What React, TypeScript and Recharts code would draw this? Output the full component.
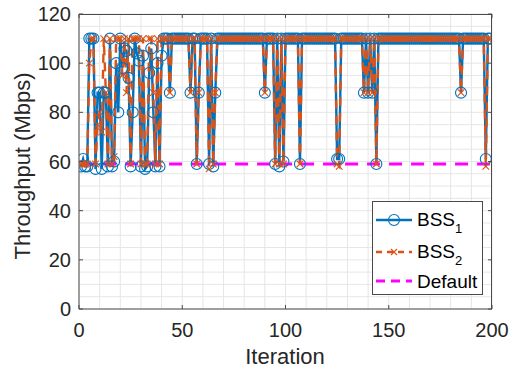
import React from 'react';
import { LineChart, Line, XAxis, YAxis, CartesianGrid, Legend } from 'recharts';

// ---- data ----
const bss1: number[] = [
  58, 61, 58, 58, 110, 110, 110, 57, 88, 88,
  57, 88, 88, 58, 110, 58, 60, 100, 80, 110,
  98, 106, 105, 94, 58, 80, 110, 104, 101, 58,
  103, 57, 58, 96, 106, 80, 58, 100, 58, 103,
  110, 110, 110, 88, 110, 110, 110, 110, 110, 110,
  110, 110, 110, 88, 110, 110, 59, 88, 110, 110,
  110, 110, 59, 110, 58, 88, 110, 110, 110, 110,
  110, 110, 110, 110, 110, 110, 110, 110, 110, 110,
  110, 110, 110, 110, 110, 110, 110, 110, 110, 88,
  110, 110, 110, 110, 59, 110, 58, 110, 60, 110,
  110, 110, 110, 110, 110, 110, 59, 110, 110, 110,
  110, 110, 110, 110, 110, 110, 110, 110, 110, 110,
  110, 110, 110, 110, 61, 61, 110, 110, 110, 110,
  110, 110, 110, 110, 110, 110, 110, 88, 110, 88,
  110, 88, 110, 59, 110, 110, 110, 110, 110, 110,
  110, 110, 110, 110, 110, 110, 110, 110, 110, 110,
  110, 110, 110, 110, 110, 110, 110, 110, 110, 110,
  110, 110, 110, 110, 110, 110, 110, 110, 110, 110,
  110, 110, 110, 110, 88, 110, 110, 110, 110, 110,
  110, 110, 110, 110, 110, 110, 61, 110, 110,
];

const bss2: number[] = [
  59, 59, 59, 59, 100, 110, 110, 59, 75, 80,
  72, 110, 88, 59, 110, 59, 62, 110, 110, 110,
  95, 110, 88, 110, 59, 110, 110, 110, 110, 59,
  110, 59, 59, 110, 110, 88, 59, 110, 59, 110,
  110, 110, 110, 88, 110, 110, 110, 110, 110, 110,
  110, 110, 110, 88, 110, 110, 59, 88, 110, 110,
  110, 110, 57, 110, 59, 88, 110, 110, 110, 110,
  110, 110, 110, 110, 110, 110, 110, 110, 110, 110,
  110, 110, 110, 110, 110, 110, 110, 110, 110, 88,
  110, 110, 110, 110, 59, 110, 59, 110, 59, 110,
  110, 110, 110, 110, 110, 110, 59, 110, 110, 110,
  110, 110, 110, 110, 110, 110, 110, 110, 110, 110,
  110, 110, 110, 110, 59, 58, 110, 110, 110, 110,
  110, 110, 110, 110, 110, 110, 110, 88, 110, 88,
  110, 88, 110, 59, 110, 110, 110, 110, 110, 110,
  110, 110, 110, 110, 110, 110, 110, 110, 110, 110,
  110, 110, 110, 110, 110, 110, 110, 110, 110, 110,
  110, 110, 110, 110, 110, 110, 110, 110, 110, 110,
  110, 110, 110, 110, 88, 110, 110, 110, 110, 110,
  110, 110, 110, 110, 110, 110, 58, 110, 110,
];

const DEFAULT_THROUGHPUT = 59;

const xTicks: number[] = [0, 10, 20, 30, 40, 50, 60, 70, 80, 90, 100, 110, 120, 130, 140, 150, 160, 170, 180, 190, 200];
const xLabelTicks: number[] = [0, 50, 100, 150, 200];
const yTicks: number[] = [0, 5, 10, 15, 20, 25, 30, 35, 40, 45, 50, 55, 60, 65, 70, 75, 80, 85, 90, 95, 100, 105, 110, 115, 120];
const yLabelTicks: number[] = [0, 20, 40, 60, 80, 100, 120];

const data = bss1.map((v, i) => ({
  iter: i + 1,
  bss1: v,
  bss2: bss2[i],
  def: DEFAULT_THROUGHPUT,
}));

// ---- style ----
const FONT = '"Liberation Sans", Arial, Helvetica, sans-serif';
const AX = '#262626';
const FRAME = '#4a4a4a';
const BLUE = '#0072BD';
const ORANGE = '#D95319';
const MAGENTA = '#FF00FF';
const PLOT_LEFT = 79;
const PLOT_RIGHT = 492;
const PLOT_TOP = 14;
const PLOT_BOTTOM = 309;
const TICK_LEN = 4;
const X_AXIS_H = 50;
const Y_AXIS_W = 60;

const XTick = (props: any) => {
  const { x, payload } = props;
  const v = payload.value;
  if (!xLabelTicks.includes(v)) return <g />;
  return (
    <g>
      <line x1={x} x2={x} y1={PLOT_BOTTOM} y2={PLOT_BOTTOM - TICK_LEN} stroke={FRAME} strokeWidth={1} />
      <line x1={x} x2={x} y1={PLOT_TOP} y2={PLOT_TOP + TICK_LEN} stroke={FRAME} strokeWidth={1} />
      <text x={x} y={337} textAnchor="middle" fontSize={20} fill={AX} fontFamily={FONT}>{v}</text>
    </g>
  );
};

const YTick = (props: any) => {
  const { y, payload } = props;
  const v = payload.value;
  if (!yLabelTicks.includes(v)) return <g />;
  return (
    <g>
      <line x1={PLOT_LEFT} x2={PLOT_LEFT + TICK_LEN} y1={y} y2={y} stroke={FRAME} strokeWidth={1} />
      <line x1={PLOT_RIGHT} x2={PLOT_RIGHT - TICK_LEN} y1={y} y2={y} stroke={FRAME} strokeWidth={1} />
      <text x={71} y={y + 7} textAnchor="end" fontSize={20} fill={AX} fontFamily={FONT}>{v}</text>
    </g>
  );
};

const XTitle = () => (
  <text x={285} y={364} textAnchor="middle" fontSize={22} fill={AX} fontFamily={FONT}>Iteration</text>
);
const YTitle = () => (
  <text transform="translate(30,166) rotate(-90)" textAnchor="middle" fontSize={22} fill={AX} fontFamily={FONT}>Throughput (Mbps)</text>
);

const XMark = (props: any) => {
  const { cx, cy, index } = props;
  if (cx == null || cy == null) return <g key={`x-${index}`} />;
  const s = 3.3;
  return (
    <path
      key={`x-${index}`}
      d={`M${cx - s},${cy - s}L${cx + s},${cy + s}M${cx - s},${cy + s}L${cx + s},${cy - s}`}
      stroke={ORANGE}
      strokeWidth={1.1}
      fill="none"
    />
  );
};

const LegendBox = () => (
  <svg width={111} height={94} style={{ display: 'block' }}>
    <rect x={0.5} y={0.5} width={110} height={93} fill="#fff" stroke={FRAME} strokeWidth={1} />
    <line x1={4} x2={40} y1={19} y2={19} stroke={BLUE} strokeWidth={2.4} />
    <circle cx={22} cy={19} r={5.5} fill="none" stroke={BLUE} strokeWidth={1.1} />
    <text x={45} y={25} fontSize={19} fill="#000" fontFamily={FONT}>
      BSS<tspan dy={7} fontSize={13}>1</tspan>
    </text>
    <line x1={4} x2={40} y1={51} y2={51} stroke={ORANGE} strokeWidth={2.4} strokeDasharray="6 5" />
    <path d="M19,48L25,54M19,54L25,48" stroke={ORANGE} strokeWidth={1.1} />
    <text x={45} y={57} fontSize={19} fill="#000" fontFamily={FONT}>
      BSS<tspan dy={7} fontSize={13}>2</tspan>
    </text>
    <line x1={4} x2={40} y1={80} y2={80} stroke={MAGENTA} strokeWidth={3} strokeDasharray="9 6" />
    <text x={45} y={87} fontSize={19} fill="#000" fontFamily={FONT}>Default</text>
  </svg>
);

export default function App() {
  return (
    <div style={{ position: 'absolute', left: 0, top: 0, width: 509, height: 374, background: '#fff' }}>
      <LineChart
        width={509}
        height={374}
        data={data}
        margin={{ top: PLOT_TOP, right: 509 - PLOT_RIGHT, bottom: 374 - PLOT_BOTTOM - X_AXIS_H, left: PLOT_LEFT - Y_AXIS_W }}
      >
        <CartesianGrid stroke="#e6e6e6" strokeWidth={1} />
        <XAxis
          dataKey="iter"
          type="number"
          domain={[0, 200]}
          ticks={xTicks}
          interval={0}
          height={X_AXIS_H}
          tickLine={false}
          axisLine={{ stroke: FRAME, strokeWidth: 1 }}
          tick={<XTick />}
          label={<XTitle />}
          allowDataOverflow
        />
        <YAxis
          type="number"
          domain={[0, 120]}
          ticks={yTicks}
          interval={0}
          width={Y_AXIS_W}
          tickLine={false}
          axisLine={{ stroke: FRAME, strokeWidth: 1 }}
          tick={<YTick />}
          label={<YTitle />}
          allowDataOverflow
        />
        <Line
          dataKey="bss1"
          stroke={BLUE}
          strokeWidth={2.4}
          dot={{ r: 5.5, fill: 'none', stroke: BLUE, strokeWidth: 1.1 }}
          isAnimationActive={false}
        />
        <Line
          dataKey="bss2"
          stroke={ORANGE}
          strokeWidth={2.4}
          strokeDasharray="9 7"
          dot={(p: any) => <XMark {...p} key={`x-${p.index}`} />}
          isAnimationActive={false}
        />
        <Line
          dataKey="def"
          stroke={MAGENTA}
          strokeWidth={3}
          strokeDasharray="13 9"
          dot={false}
          isAnimationActive={false}
        />
        <Legend
          layout="horizontal"
          verticalAlign="middle"
          align="center"
          content={<LegendBox />}
          wrapperStyle={{ position: 'absolute', left: 372, top: 201, width: 111, height: 94 }}
        />
      </LineChart>
      <svg style={{ position: 'absolute', left: 0, top: 0, pointerEvents: 'none' }} width={509} height={374}>
        <line x1={PLOT_LEFT} x2={PLOT_RIGHT} y1={PLOT_TOP + 0.5} y2={PLOT_TOP + 0.5} stroke={FRAME} strokeWidth={1} />
        <line x1={PLOT_RIGHT - 0.5} x2={PLOT_RIGHT - 0.5} y1={PLOT_TOP} y2={PLOT_BOTTOM} stroke={FRAME} strokeWidth={1} />
      </svg>
    </div>
  );
}
